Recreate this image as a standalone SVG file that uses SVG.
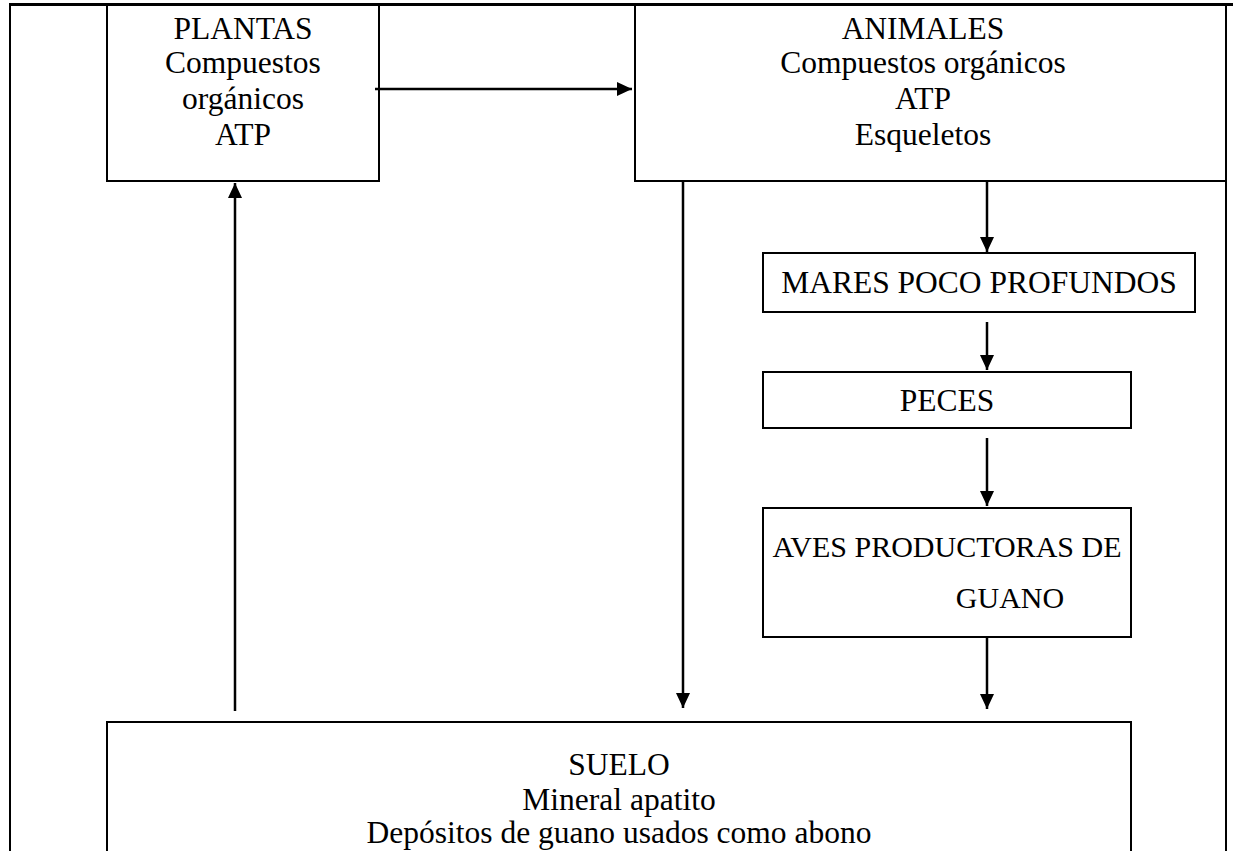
<svg xmlns="http://www.w3.org/2000/svg" width="1233" height="851" viewBox="0 0 1233 851">
<style>
.box{fill:#fff;stroke:#000;stroke-width:2}
.frame{fill:none;stroke:#000}
.t{font-family:"Liberation Serif","Times New Roman",serif;font-size:31.5px;fill:#000;text-anchor:middle}
.s{font-size:30px}
.c{fill:none;stroke:#000;stroke-width:2.5}
</style>
<defs>
<marker id="ah" markerUnits="userSpaceOnUse" markerWidth="16" markerHeight="16" viewBox="0 0 16 16" refX="15" refY="8" orient="auto">
<path d="M0,1 L15,8 L0,15 Z" fill="#000"/>
</marker>
</defs>
<rect width="1233" height="851" fill="#fff"/>
<g id="frame">
<line class="frame" x1="9" y1="4.5" x2="1233" y2="4.5" stroke-width="3"/>
<line class="frame" x1="10" y1="4" x2="10" y2="851" stroke-width="2"/>
<line class="frame" x1="1226" y1="4" x2="1226" y2="851" stroke-width="2"/>
</g>
<g id="plantas">
<rect class="box" x="107" y="5" width="272" height="176"/>
<text class="t" x="243" y="38.5">PLANTAS</text>
<text class="t" x="243" y="73">Compuestos</text>
<text class="t" x="243" y="108.5">orgánicos</text>
<text class="t" x="243" y="144.5">ATP</text>
</g>
<g id="animales">
<rect class="box" x="635" y="5" width="591" height="176"/>
<text class="t" x="923" y="38.5">ANIMALES</text>
<text class="t" x="923" y="73">Compuestos orgánicos</text>
<text class="t" x="923" y="108.5">ATP</text>
<text class="t" x="923" y="144.5">Esqueletos</text>
</g>
<g id="mares">
<rect class="box" x="763" y="253" width="432" height="59"/>
<text class="t" x="979" y="293">MARES POCO PROFUNDOS</text>
</g>
<g id="peces">
<rect class="box" x="763" y="372" width="368" height="56"/>
<text class="t" x="947" y="411">PECES</text>
</g>
<g id="aves">
<rect class="box" x="763" y="508" width="368" height="129"/>
<text class="t s" x="947" y="557">AVES PRODUCTORAS DE</text>
<text class="t s" x="1010" y="608">GUANO</text>
</g>
<g id="suelo">
<path class="box" d="M107,851 L107,722 L1131,722 L1131,851"/>
<text class="t" x="619" y="775">SUELO</text>
<text class="t" x="619" y="810">Mineral apatito</text>
<text class="t" x="619" y="843">Depósitos de guano usados como abono</text>
</g>
<g id="connectors">
<line class="c" x1="375" y1="89" x2="632" y2="89" marker-end="url(#ah)"/>
<line class="c" x1="235" y1="711" x2="235" y2="183" marker-end="url(#ah)"/>
<line class="c" x1="683" y1="181" x2="683" y2="708" marker-end="url(#ah)"/>
<line class="c" x1="987" y1="181" x2="987" y2="252" marker-end="url(#ah)"/>
<line class="c" x1="987" y1="322" x2="987" y2="370" marker-end="url(#ah)"/>
<line class="c" x1="987" y1="438" x2="987" y2="506" marker-end="url(#ah)"/>
<line class="c" x1="987" y1="637" x2="987" y2="709" marker-end="url(#ah)"/>
</g>
</svg>
